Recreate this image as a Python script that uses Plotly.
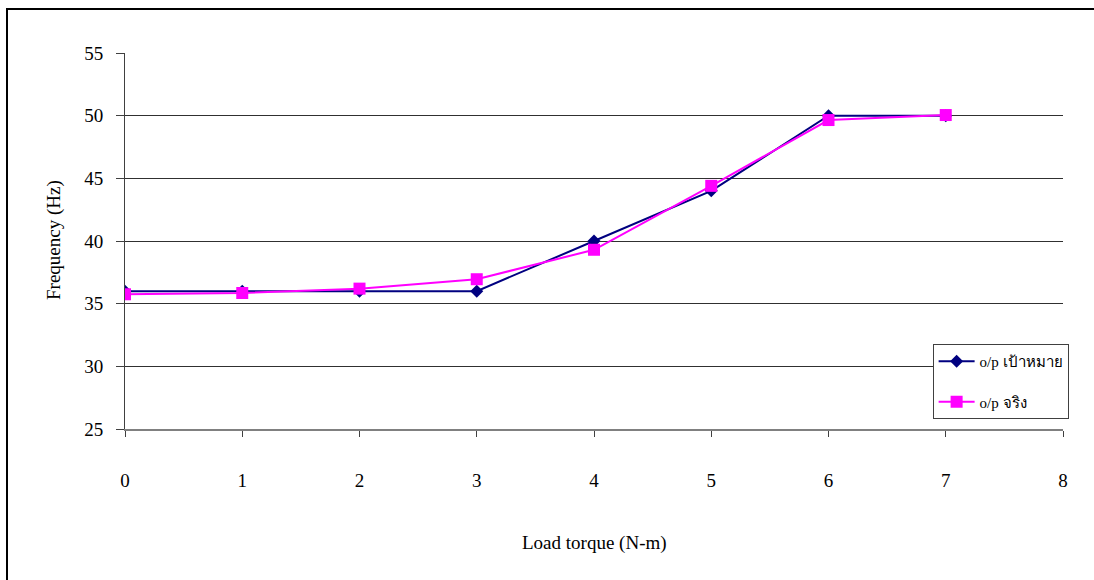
import plotly.graph_objects as go

torque = [0, 1, 2, 3, 4, 5, 6, 7]
target_hz = [36, 36, 36, 36, 40, 44, 50, 50]
actual_hz = [35.75, 35.85, 36.2, 36.95, 39.3, 44.4, 49.65, 50.05]
series_names = ["o/p เป้าหมาย", "o/p จริง"]
x_ticks = [0, 1, 2, 3, 4, 5, 6, 7, 8]
y_ticks = [25, 30, 35, 40, 45, 50, 55]

FONT = "Liberation Serif"
FS = 19

fig = go.Figure()
fig.add_trace(go.Scatter(
    x=torque, y=target_hz, mode="lines+markers", name=series_names[0],
    line=dict(color="#000080", width=2),
    marker=dict(symbol="diamond", size=10, color="#000080"),
    legendgroup="a",
))
fig.add_trace(go.Scatter(
    x=torque, y=actual_hz, mode="lines+markers", name=series_names[1],
    line=dict(color="#FF00FF", width=2),
    marker=dict(symbol="square", size=12, color="#FF00FF"),
    legendgroup="b",
))

fig.update_layout(
    width=1094, height=580,
    margin=dict(l=125, r=31, t=53, b=151),
    paper_bgcolor="white", plot_bgcolor="white",
    font=dict(family=FONT, size=FS, color="black"),
    showlegend=True,
    legend=dict(
        x=0.861, y=0.226, xanchor="left", yanchor="top",
        bordercolor="#404040", borderwidth=1, bgcolor="white",
        font=dict(family=FONT, size=15), tracegroupgap=18,
        itemwidth=36,
    ),
    xaxis=dict(
        range=[0, 8], tickvals=x_ticks, ticktext=[str(v) for v in x_ticks],
        showgrid=False, zeroline=False, showline=True, linecolor="#808080", linewidth=2,
        ticks="outside", ticklen=6, tickcolor="#404040", tickwidth=1,
        ticklabelstandoff=27,
    ),
    yaxis=dict(
        range=[25, 55], tickvals=y_ticks,
        showgrid=True, gridcolor="#303030", gridwidth=1, zeroline=False,
        showline=True, linecolor="#404040", linewidth=1,
        ticks="outside", ticklen=8, tickcolor="#404040", tickwidth=1,
        ticklabelstandoff=9,
    ),
    shapes=[dict(type="rect", xref="paper", yref="paper",
                 x0=-118/938, x1=1.2, y0=-0.6, y1=(429-9)/376,
                 line=dict(color="black", width=2), fillcolor="rgba(0,0,0,0)", layer="below")],
    annotations=[
        dict(text="Load torque (N-m)", xref="paper", yref="paper",
             x=(594-125)/938, y=-(543-429)/376, showarrow=False,
             xanchor="center", yanchor="middle", font=dict(family=FONT, size=FS)),
        dict(text="Frequency (Hz)", xref="paper", yref="paper",
             x=-(125-54)/938, y=(429-240)/376, showarrow=False, textangle=-90,
             xanchor="center", yanchor="middle", font=dict(family=FONT, size=FS)),
    ],
)

fig.write_html("out.html")
